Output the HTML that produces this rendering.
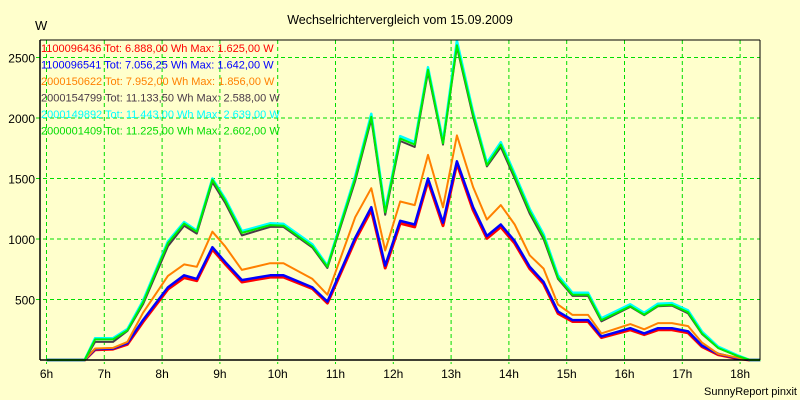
<!DOCTYPE html>
<html><head><meta charset="utf-8"><style>
body{margin:0;background:#ffffcc;}
svg{display:block;font-family:"Liberation Sans",sans-serif;}
</style></head><body>
<svg id="chart" width="800" height="400">
<rect x="0" y="0" width="800" height="400" fill="#ffffcc"/>
<text x="400" y="24" text-anchor="middle" font-size="12.5" fill="#000">Wechselrichtervergleich vom 15.09.2009</text>
<text x="35" y="30" font-size="13" fill="#000">W</text>
<g id="grid"></g><g id="series"></g>
<line x1="40" y1="40" x2="760" y2="40" stroke="#000"/>
<line x1="760" y1="40" x2="760" y2="360" stroke="#000"/>
<line x1="40" y1="40" x2="40" y2="360" stroke="#000" stroke-width="1.5"/>
<line x1="40" y1="360" x2="760" y2="360" stroke="#000" stroke-width="1.5"/>
<g id="legend" font-size="11"></g>
<text x="797" y="395" text-anchor="end" font-size="11" fill="#000">SunnyReport pinxit</text>
</svg>
<script>
const hourTicks=[6,7,8,9,10,11,12,13,14,15,16,17,18];
const wattTicks=[500,1000,1500,2000,2500];
const times=[6,6.66,6.84,7.15,7.4,7.67,8.1,8.38,8.6,8.87,9.09,9.38,9.87,10.1,10.6,10.86,11.34,11.62,11.86,12.12,12.37,12.6,12.86,13.1,13.38,13.62,13.86,14.1,14.36,14.6,14.85,15.1,15.37,15.6,16.1,16.34,16.58,16.82,17.1,17.34,17.62,17.95,18.17,18.35];
const redVals=[0,0,85,90,130,315,585,680,655,915,795,645,685,685,590,470,990,1240,760,1130,1100,1480,1110,1625,1240,1005,1100,965,755,630,385,318,318,185,250,210,250,250,225,110,45,12,0,0];
const blueVals=[0,0,90,95,140,330,600,700,670,932,810,660,700,700,600,483,1010,1263,780,1150,1120,1500,1135,1642,1263,1025,1120,983,771,645,400,330,330,195,263,220,263,263,237,119,51,15,0,0];
const orangeVals=[0,0,95,100,150,390,695,790,770,1060,940,745,800,800,670,540,1180,1420,905,1310,1280,1695,1262,1856,1430,1160,1280,1120,865,755,458,373,373,220,297,254,305,305,280,144,51,20,0,0];
const darkVals=[0,0,150,150,240,460,940,1110,1045,1470,1300,1030,1100,1100,930,760,1480,1990,1200,1810,1760,2380,1780,2588,2010,1600,1760,1500,1210,1000,670,530,530,320,440,370,445,450,385,215,100,35,0,0];
const cyanVals=[0,0,180,180,255,490,980,1140,1070,1500,1335,1065,1130,1125,955,780,1520,2035,1240,1850,1800,2420,1810,2639,2050,1630,1800,1540,1250,1040,700,555,555,345,460,390,465,470,410,235,110,40,0,0];
const greenVals=[0,0,170,170,245,475,966,1127,1060,1490,1320,1050,1115,1110,940,770,1500,2010,1220,1830,1780,2400,1790,2602,2030,1610,1780,1520,1230,1020,680,540,540,330,445,375,450,455,395,220,100,35,0,0];
const legendLabels=["1100096436 Tot: 6.888,00 Wh Max: 1.625,00 W","1100096541 Tot: 7.056,25 Wh Max: 1.642,00 W","2000150622 Tot: 7.952,00 Wh Max: 1.856,00 W","2000154799 Tot: 11.133,50 Wh Max: 2.588,00 W","2000149892 Tot: 11.443,00 Wh Max: 2.639,00 W","2000001409 Tot: 11.225,00 Wh Max: 2.602,00 W"];

const NS="http://www.w3.org/2000/svg";
function xs(h){return 46.5+(h-6)*57.8;}
function ys(w){return 360-w*0.121;}
const grid=document.getElementById('grid');
hourTicks.forEach(h=>{
  const l=document.createElementNS(NS,'line');
  l.setAttribute('x1',xs(h));l.setAttribute('x2',xs(h));l.setAttribute('y1',40);l.setAttribute('y2',364);
  l.setAttribute('stroke','#00dd00');l.setAttribute('stroke-dasharray','4,3');
  
  
  grid.appendChild(l);
  const t=document.createElementNS(NS,'text');
  t.setAttribute('x',xs(h));t.setAttribute('y',378);t.setAttribute('text-anchor','middle');t.setAttribute('font-size','12');
  t.textContent=h+'h';
  
  
  grid.appendChild(t);
});
wattTicks.forEach(w=>{
  const l=document.createElementNS(NS,'line');
  l.setAttribute('x1',36);l.setAttribute('x2',760);l.setAttribute('y1',ys(w));l.setAttribute('y2',ys(w));
  l.setAttribute('stroke','#00dd00');l.setAttribute('stroke-dasharray','4,3');
  
  
  grid.appendChild(l);
  const t=document.createElementNS(NS,'text');
  t.setAttribute('x',35);t.setAttribute('y',ys(w)+5);t.setAttribute('text-anchor','end');t.setAttribute('font-size','12');
  t.textContent=w;
  
  
  grid.appendChild(t);
});
const series=[[redVals,'#ff0000','series-1100096436',3],[blueVals,'#0000ff','series-1100096541',2.5],[orangeVals,'#ff8000','series-2000150622',2],[darkVals,'#4a3a48','series-2000154799',2],[cyanVals,'#00ffff','series-2000149892',2.5],[greenVals,'#00ee00','series-2000001409',2]];
const sg=document.getElementById('series');
series.forEach(s=>{
  const p=document.createElementNS(NS,'polyline');
  p.setAttribute('points',times.map((t,i)=>xs(t).toFixed(1)+','+ys(s[0][i]).toFixed(1)).join(' '));
  p.setAttribute('fill','none');p.setAttribute('stroke',s[1]);p.setAttribute('stroke-width',s[3]);p.setAttribute('stroke-linejoin','round');
  
  
  sg.appendChild(p);
});
const lg=document.getElementById('legend');
legendLabels.forEach((txt,i)=>{
  const t=document.createElementNS(NS,'text');
  t.setAttribute('x',41);t.setAttribute('y',52+i*16.5);t.setAttribute('fill',series[i][1]==='#00ee00'?'#00dd00':series[i][1]);
  t.textContent=txt;
  
  
  lg.appendChild(t);
});
</script>
</body></html>
